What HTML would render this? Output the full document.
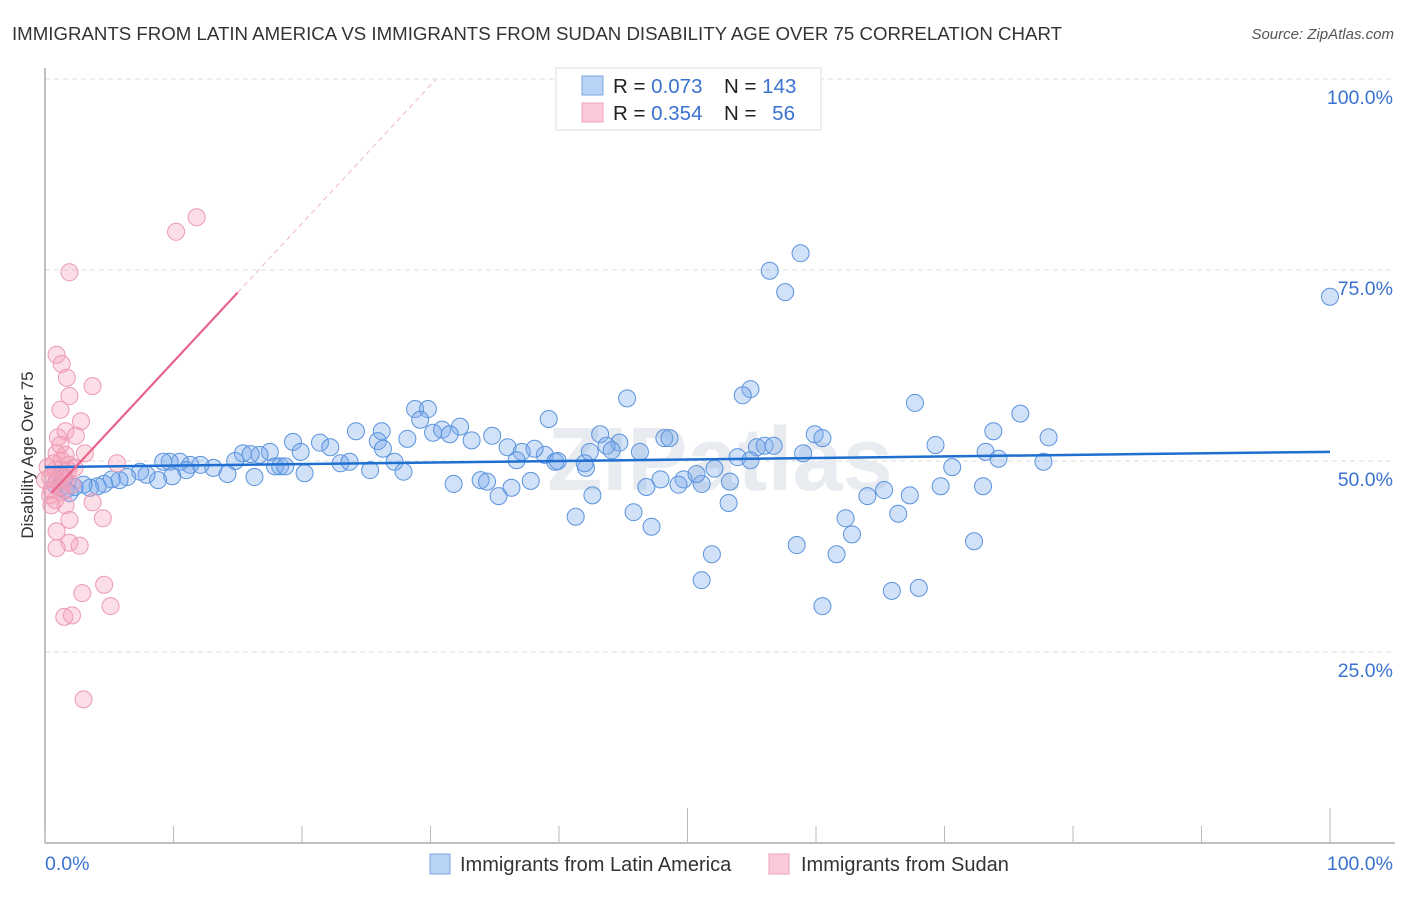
<!DOCTYPE html>
<html><head><meta charset="utf-8"><style>
body{margin:0;background:#fff;font-family:"Liberation Sans",sans-serif}
svg text{font-family:"Liberation Sans",sans-serif}
</style></head><body>
<svg id="chart" width="1406" height="892" viewBox="0 0 1406 892">
<text x="12" y="40" font-size="18" fill="#333" textLength="1050" lengthAdjust="spacingAndGlyphs">IMMIGRANTS FROM LATIN AMERICA VS IMMIGRANTS FROM SUDAN DISABILITY AGE OVER 75 CORRELATION CHART</text>
<text x="1394" y="39" font-size="15" fill="#555" font-style="italic" text-anchor="end">Source: ZipAtlas.com</text>
<g id="grid"></g>
<text x="720" y="490" font-size="90" font-weight="bold" fill="#e8ebf0" text-anchor="middle">ZIPatlas</text>
<g id="axes"></g>
<g id="pts"></g>
<g id="lines"></g>
<text transform="translate(33,455) rotate(-90)" font-size="17" fill="#333" text-anchor="middle">Disability Age Over 75</text>
<g>
<rect x="556" y="68" width="265" height="62" fill="#fff" stroke="#ddd"/>
<rect x="582" y="76" width="21" height="19" fill="#b8d3f5" stroke="#7aa7e0"/>
<rect x="582" y="103" width="21" height="19" fill="#fcc9d8" stroke="#eda3ba"/>
<text x="613" y="93" font-size="20.5" fill="#222">R = <tspan fill="#3a72d0">0.073</tspan></text>
<text x="724" y="93" font-size="20.5" fill="#222">N = <tspan fill="#3a72d0">143</tspan></text>
<text x="613" y="120" font-size="20.5" fill="#222">R = <tspan fill="#3a72d0">0.354</tspan></text>
<text x="724" y="120" font-size="20.5" fill="#222">N = <tspan fill="#3a72d0" dx="10">56</tspan></text>
</g>
<g>
<rect x="430" y="854" width="20" height="20" fill="#b8d3f5" stroke="#7aa7e0"/>
<text x="460" y="871" font-size="20" fill="#333">Immigrants from Latin America</text>
<rect x="769" y="854" width="20" height="20" fill="#fcc9d8" stroke="#eda3ba"/>
<text x="801" y="871" font-size="20" fill="#333">Immigrants from Sudan</text>
</g>
</svg>
<script>
const yTicks=[100,75,50,25];
const yTickLabels=["100.0%","75.0%","50.0%","25.0%"];
const xTicks=[0,10,20,30,40,50,60,70,80,90,100];
const xEndLabels=["0.0%","100.0%"];
const blueX=[100,58.8,56.4,57.6,54.9,54.3,45.3,67.7,75.9,78.1,73.8,59.9,60.5,48.2,48.6,39.2,28.8,29.8,29.2,32.3,30.2,30.9,34.8,33.2,24.2,26.2,25.9,28.2,21.4,22.2,19.3,19.9,17.5,16.7,15.4,16.0,14.8,14.2,13.1,12.1,11.3,10.5,9.7,9.2,11.0,9.9,8.8,7.9,7.4,6.4,5.8,5.2,4.6,4.1,3.5,3.0,2.3,1.6,1.2,0.8,1.9,1.5,16.3,20.2,23.0,23.7,25.3,27.2,27.9,26.3,43.2,44.7,43.7,46.3,42.4,38.9,39.7,36.0,37.1,38.1,36.7,42.1,39.9,42.0,33.9,34.4,36.3,37.8,35.3,31.8,42.6,41.3,46.8,45.8,47.2,47.9,49.7,51.1,49.3,50.7,52.1,53.3,53.2,53.9,55.4,56.0,56.7,59.0,51.9,51.1,58.5,60.5,61.6,62.3,62.8,64.0,65.3,66.4,67.3,65.9,68.0,70.6,69.7,69.3,72.3,73.0,73.2,74.2,77.7,44.1,54.9,31.5,18.3,17.9,18.7];
const blueY=[71.5,77.2,74.9,72.1,59.4,58.6,58.2,57.6,56.2,53.1,53.9,53.5,53.0,53.0,53.0,55.5,56.8,56.8,55.4,54.5,53.7,54.1,53.3,52.7,53.9,53.9,52.6,52.9,52.4,51.8,52.5,51.2,51.2,50.8,51.0,50.9,50.0,48.3,49.1,49.5,49.5,49.9,49.9,49.9,48.8,48.0,47.5,48.2,48.6,47.9,47.5,47.6,47.0,46.7,46.5,46.9,46.6,46.2,46.5,46.9,45.8,47.8,47.9,48.4,49.7,49.9,48.8,49.9,48.6,51.6,53.5,52.4,52.0,51.2,51.2,50.8,49.9,51.8,51.2,51.6,50.1,49.1,50.0,49.7,47.5,47.3,46.5,47.4,45.4,47.0,45.5,42.7,46.6,43.3,41.4,47.6,47.6,47.0,46.9,48.3,49.0,47.3,44.5,50.5,51.8,52.0,52.0,51.0,37.8,34.4,39.0,31.0,37.8,42.5,40.4,45.4,46.2,43.1,45.5,33.0,33.4,49.2,46.7,52.1,39.5,46.7,51.2,50.3,49.9,51.4,50.1,53.5,49.3,49.3,49.3];
const pinkX=[11.8,10.2,1.9,0.9,1.3,1.7,3.7,1.9,2.8,1.2,1.6,2.4,1.0,3.1,5.6,0.9,1.3,1.9,0.8,1.2,0.4,0.9,1.4,1.8,2.3,0.4,0.8,1.3,3.7,1.9,4.5,0.9,1.9,0.9,2.7,4.6,2.9,5.1,1.5,2.1,3.0,0.5,0.7,1.6,2.1,0.2,1.6,1.2,0.5,1.6,1.2,0];
const pinkY=[81.9,80.0,74.7,63.9,62.7,60.9,59.8,58.5,55.2,56.7,53.9,53.3,53.1,51.0,49.7,51.0,50.1,49.5,48.8,48.3,47.8,47.4,48.2,48.8,49.1,45.5,44.9,45.9,44.6,42.3,42.5,40.8,39.3,38.6,38.9,33.8,32.7,31.0,29.6,29.8,18.8,46.2,49.7,47.5,46.9,49.2,50.8,52.1,44.2,44.2,46.6,47.5];
const blueTrend=[49.2,51.2];
const pinkTrend=[44.9,1.81];

const X0=45,X1=1330,Y0=843,Y1=79;
const sx=v=>X0+(X1-X0)*v/100;
const sy=v=>Y0-(Y0-Y1)*v/100;
const NS="http://www.w3.org/2000/svg";
function mk(t,a,p){const e=document.createElementNS(NS,t);for(const k in a)e.setAttribute(k,a[k]);p.appendChild(e);return e;}
const grid=document.getElementById('grid'),axes=document.getElementById('axes'),pts=document.getElementById('pts'),lines=document.getElementById('lines');
yTicks.forEach((v,i)=>{
 const l=mk('line',{x1:X0,x2:1395,y1:sy(v),y2:sy(v),stroke:'#ddd','stroke-dasharray':'5,4'},grid);
 
 
 const t=mk('text',{x:1393,y:sy(v)+25,'font-size':19.5,fill:'#3a72d0','text-anchor':'end'},axes);
 t.textContent=yTickLabels[i];
 
 
});
const ya=mk('line',{x1:X0,x2:X0,y1:68,y2:Y0,stroke:'#aaa','stroke-width':1.5},axes);


const xa=mk('line',{x1:X0,x2:1395,y1:Y0,y2:Y0,stroke:'#aaa','stroke-width':1.5},axes);


xTicks.forEach(v=>{
 const tall=(v===50||v===100);
 const l=mk('line',{x1:sx(v),x2:sx(v),y1:tall?808:826,y2:Y0,stroke:'#bbb'},axes);
 
 
});
[[0,'start',45],[100,'end',1393]].forEach((d,i)=>{
 const t=mk('text',{x:d[2],y:870,'font-size':19.5,fill:'#3a72d0','text-anchor':d[1]},axes);
 t.textContent=xEndLabels[i];
 
 
});
blueX.forEach((x,i)=>{
 const c=mk('circle',{cx:sx(x),cy:sy(blueY[i]),r:8.5,fill:'rgba(120,170,235,0.35)',stroke:'#5b93de','stroke-width':1},pts);
 
 
});
pinkX.forEach((x,i)=>{
 const c=mk('circle',{cx:sx(x),cy:sy(pinkY[i]),r:8.5,fill:'rgba(245,160,185,0.35)',stroke:'#ec9ab3','stroke-width':1},pts);
 
 
});
const bl=mk('line',{x1:sx(0),y1:sy(blueTrend[0]),x2:sx(100),y2:sy(blueTrend[1]),stroke:'#1f6fd1','stroke-width':2.5},lines);


const pf=x=>pinkTrend[0]+pinkTrend[1]*x;
const pl=mk('line',{x1:sx(0.5),y1:sy(pf(0.5)),x2:sx(15),y2:sy(pf(15)),stroke:'#e8648c','stroke-width':2.2},lines);


const pd=mk('line',{x1:sx(15),y1:sy(pf(15)),x2:sx(30.4),y2:sy(pf(30.4)),stroke:'#f0b4c6','stroke-width':1,'stroke-dasharray':'5,4'},lines);


</script>
</body></html>
